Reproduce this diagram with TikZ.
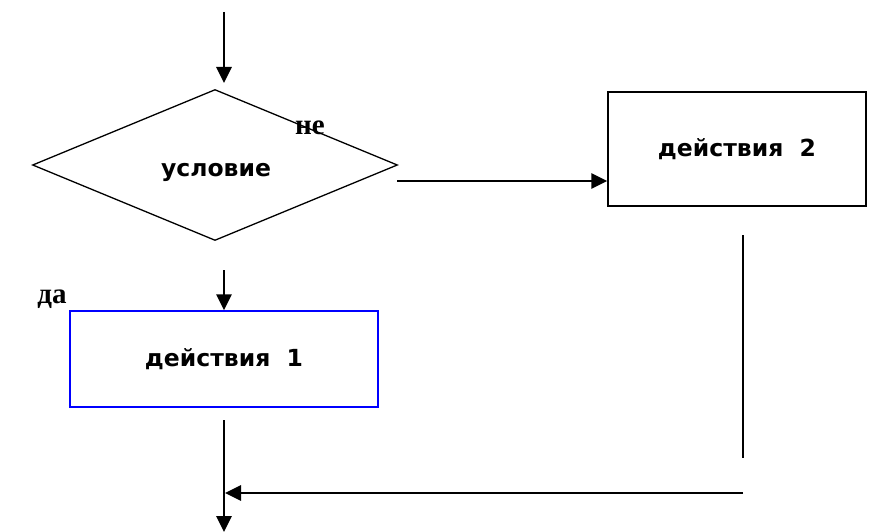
\documentclass[tikz,border=0pt]{standalone}
\usepackage{fontspec}
\setmainfont{Liberation Serif}
\newfontfamily\boxfont{DejaVu Sans}
\usetikzlibrary{shapes.geometric, positioning, arrows.meta}

\begin{document}
\begin{tikzpicture}[x=1pt, y=-1pt,
    boxtext/.style={font=\boxfont\bfseries\fontsize{23.5}{28}\selectfont},
    block/.style={rectangle, draw, line width=1.3pt, fill=white, inner sep=0pt, boxtext},
    cond/.style={diamond, draw, line width=1.3pt, inner sep=0pt,
      minimum width=365pt, minimum height=151pt},
    branch/.style={font=\bfseries\fontsize{29}{32}\selectfont},
    line/.style={draw, -{Triangle[length=16pt,width=15pt]}, line width=2.7pt},
    wire/.style={draw, line width=2.2pt}]
    \useasboundingbox (0,0) rectangle (877,532);

    % branch labels
    \node [branch] (no) at (310,128) {не};
    \node [branch] (yes) at (52,299) {да};

    % blocks
    \node [cond] (test) at (215,165) {};
    \node [boxtext] (testtxt) at (216,172) {условие};
    \node [block, minimum width=258pt, minimum height=114pt] (act2) at (737,149) {действия\ \ 2};
    \node [block, draw=blue, minimum width=308pt, minimum height=96pt] (act1) at (224,359) {действия\ \ 1};

    % loose ends of the connectors
    \coordinate (in) at (224,12);
    \coordinate (inend) at (224,83);
    \coordinate (right) at (397,181);
    \coordinate (yesout) at (224,270);
    \coordinate (act1out) at (224,420);
    \coordinate (out) at (224,532);
    \coordinate (act2out) at (743,235);
    \coordinate (act2down) at (743,458);
    \coordinate (joinfrom) at (743,493);
    \coordinate (jointo) at (225,493);

    \path [line] (in) -- (inend);
    \path [line] (right) -- (act2.west |- right);
    \path [line] (yesout) -- (act1.north);
    \path [line] (act1out) -- (out);
    \path [wire] (act2out) -- (act2down);
    \path [line] (joinfrom) -- (jointo);
\end{tikzpicture}
\end{document}
